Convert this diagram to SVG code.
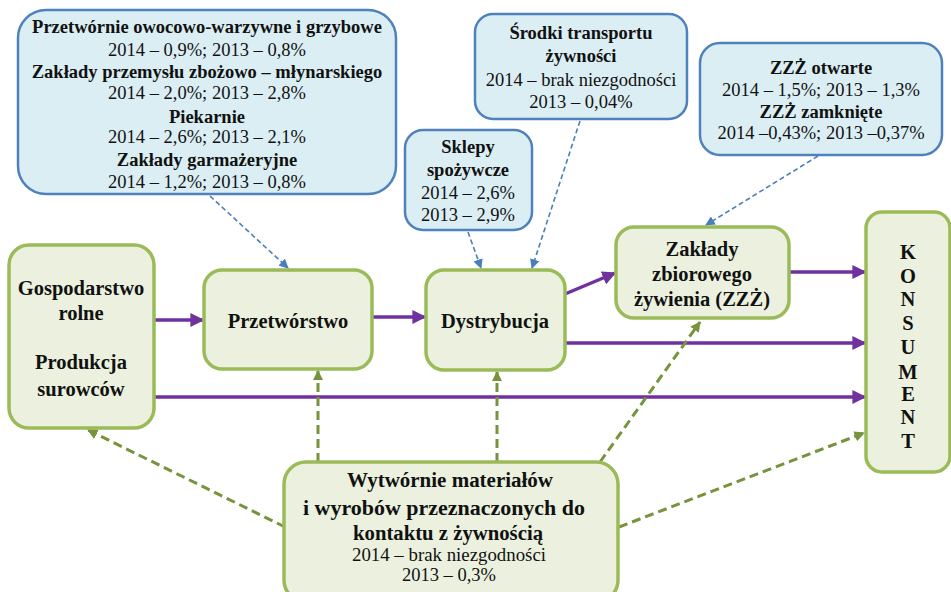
<svg xmlns="http://www.w3.org/2000/svg" width="951" height="592" viewBox="0 0 951 592" font-family="Liberation Serif, Times New Roman, serif">
<style>
.gn{fill:#EBF1DE;stroke:#9BBB59;stroke-width:3.5}
.bl{fill:#DBEEF4;stroke:#4F81BD;stroke-width:2.5}
text{fill:#111;text-anchor:middle}
.h{font-weight:bold;font-size:18.5px}
.r{font-size:18.5px}
.n{font-weight:bold;font-size:20.5px}
.pu{stroke:#7030A0;stroke-width:3.5;fill:none;marker-end:url(#ap)}
.gd{stroke:#77933C;stroke-width:3;fill:none;stroke-dasharray:9 5;marker-end:url(#ag)}
.bd{stroke:#4A7EBB;stroke-width:1.6;fill:none;stroke-dasharray:5 3;marker-end:url(#ab)}
</style>
<defs>
<marker id="ap" viewBox="0 0 10 10" refX="9" refY="5" markerWidth="4" markerHeight="4" orient="auto" markerUnits="strokeWidth"><path d="M0,0L10,5L0,10z" fill="#7030A0"/></marker>
<marker id="ag" viewBox="0 0 10 10" refX="9" refY="5" markerWidth="3.5" markerHeight="3.5" orient="auto" markerUnits="strokeWidth"><path d="M0,0L10,5L0,10z" fill="#77933C"/></marker>
<marker id="ab" viewBox="0 0 10 10" refX="9" refY="5" markerWidth="6" markerHeight="6" orient="auto" markerUnits="strokeWidth"><path d="M0,0L10,5L0,10z" fill="#4A7EBB"/></marker>
</defs>
<rect width="951" height="592" fill="#fff"/>

<g id="connectors">
<line class="pu" x1="154" y1="320" x2="203" y2="320"/>
<line class="pu" x1="372" y1="317" x2="425" y2="317"/>
<line class="pu" x1="565" y1="294" x2="615" y2="273"/>
<line class="pu" x1="789" y1="272" x2="865" y2="272"/>
<line class="pu" x1="565" y1="343" x2="865" y2="343"/>
<line class="pu" x1="154" y1="397" x2="865" y2="397"/>
<line class="gd" x1="285" y1="527" x2="88" y2="430"/>
<line class="gd" x1="318" y1="462" x2="318" y2="371"/>
<line class="gd" x1="497" y1="462" x2="497" y2="372"/>
<line class="gd" x1="600" y1="462" x2="700" y2="322"/>
<line class="gd" x1="619" y1="527" x2="864" y2="433"/>
<line class="bd" x1="210" y1="196" x2="288" y2="268"/>
<line class="bd" x1="468" y1="232" x2="481" y2="268"/>
<line class="bd" x1="580" y1="121" x2="532" y2="268"/>
<line class="bd" x1="818" y1="156" x2="706" y2="225"/>
</g>

<g id="box-przetwornie">
<rect class="bl" x="18" y="10" width="378" height="184" rx="28"/>
<text class="h" x="207" y="33">Przetwórnie owocowo-warzywne i grzybowe</text>
<text class="r" x="207" y="56">2014 – 0,9%; 2013 – 0,8%</text>
<text class="h" x="207" y="78">Zakłady przemysłu zbożowo – młynarskiego</text>
<text class="r" x="207" y="99">2014 – 2,0%; 2013 – 2,8%</text>
<text class="h" x="207" y="123">Piekarnie</text>
<text class="r" x="207" y="143">2014 – 2,6%; 2013 – 2,1%</text>
<text class="h" x="207" y="166">Zakłady garmażeryjne</text>
<text class="r" x="207" y="188">2014 – 1,2%; 2013 – 0,8%</text>
</g>

<g id="box-srodki">
<rect class="bl" x="475" y="14" width="212" height="105" rx="18"/>
<text class="h" x="581" y="39">Środki transportu</text>
<text class="h" x="581" y="62">żywności</text>
<text class="r" x="581" y="86">2014 – brak niezgodności</text>
<text class="r" x="581" y="108">2013 – 0,04%</text>
</g>

<g id="box-sklepy">
<rect class="bl" x="405" y="130" width="127" height="100" rx="18"/>
<text class="h" x="468" y="153">Sklepy</text>
<text class="h" x="468" y="176">spożywcze</text>
<text class="r" x="468" y="199">2014 – 2,6%</text>
<text class="r" x="468" y="221">2013 – 2,9%</text>
</g>

<g id="box-zzz">
<rect class="bl" x="700" y="43" width="242" height="112" rx="20"/>
<text class="h" x="821" y="74">ZZŻ otwarte</text>
<text class="r" x="821" y="96">2014 – 1,5%; 2013 – 1,3%</text>
<text class="h" x="821" y="118">ZZŻ zamknięte</text>
<text class="r" x="821" y="139">2014 –0,43%; 2013 –0,37%</text>
</g>

<g id="node-gospodarstwo">
<rect class="gn" x="9" y="245" width="145" height="183" rx="20"/>
<text class="n" x="81" y="295">Gospodarstwo</text>
<text class="n" x="81" y="320">rolne</text>
<text class="n" x="81" y="369">Produkcja</text>
<text class="n" x="81" y="396">surowców</text>
</g>

<g id="node-przetworstwo">
<rect class="gn" x="204" y="270" width="168" height="99" rx="18"/>
<text class="n" x="288" y="328">Przetwórstwo</text>
</g>

<g id="node-dystrybucja">
<rect class="gn" x="426" y="270" width="139" height="100" rx="18"/>
<text class="n" x="495" y="328">Dystrybucja</text>
</g>

<g id="node-zzz">
<rect class="gn" x="616" y="227" width="173" height="91" rx="18"/>
<text class="n" x="702" y="256">Zakłady</text>
<text class="n" x="702" y="281">zbiorowego</text>
<text class="n" x="702" y="306">żywienia  (ZZŻ)</text>
</g>

<g id="node-konsument">
<rect class="gn" x="866" y="212" width="84" height="260" rx="16"/>
<text class="n" x="908" y="259">K</text>
<text class="n" x="908" y="283">O</text>
<text class="n" x="908" y="306">N</text>
<text class="n" x="908" y="330">S</text>
<text class="n" x="908" y="354">U</text>
<text class="n" x="908" y="379">M</text>
<text class="n" x="908" y="401">E</text>
<text class="n" x="908" y="424">N</text>
<text class="n" x="908" y="448">T</text>
</g>

<g id="node-wytwornie">
<rect class="gn" x="284" y="462" width="334" height="140" rx="22"/>
<text class="n" x="450" y="487" font-size="21" textLength="206" lengthAdjust="spacingAndGlyphs">Wytwórnie  materiałów</text>
<text class="n" x="444" y="515" font-size="21" textLength="282" lengthAdjust="spacingAndGlyphs">i wyrobów  przeznaczonych  do</text>
<text class="n" x="448" y="540" font-size="21" textLength="190" lengthAdjust="spacingAndGlyphs">kontaktu  z  żywnością</text>
<text class="r" x="449" y="561" textLength="194" lengthAdjust="spacingAndGlyphs">2014 – brak niezgodności</text>
<text class="r" x="449" y="581">2013 – 0,3%</text>
</g>
</svg>
